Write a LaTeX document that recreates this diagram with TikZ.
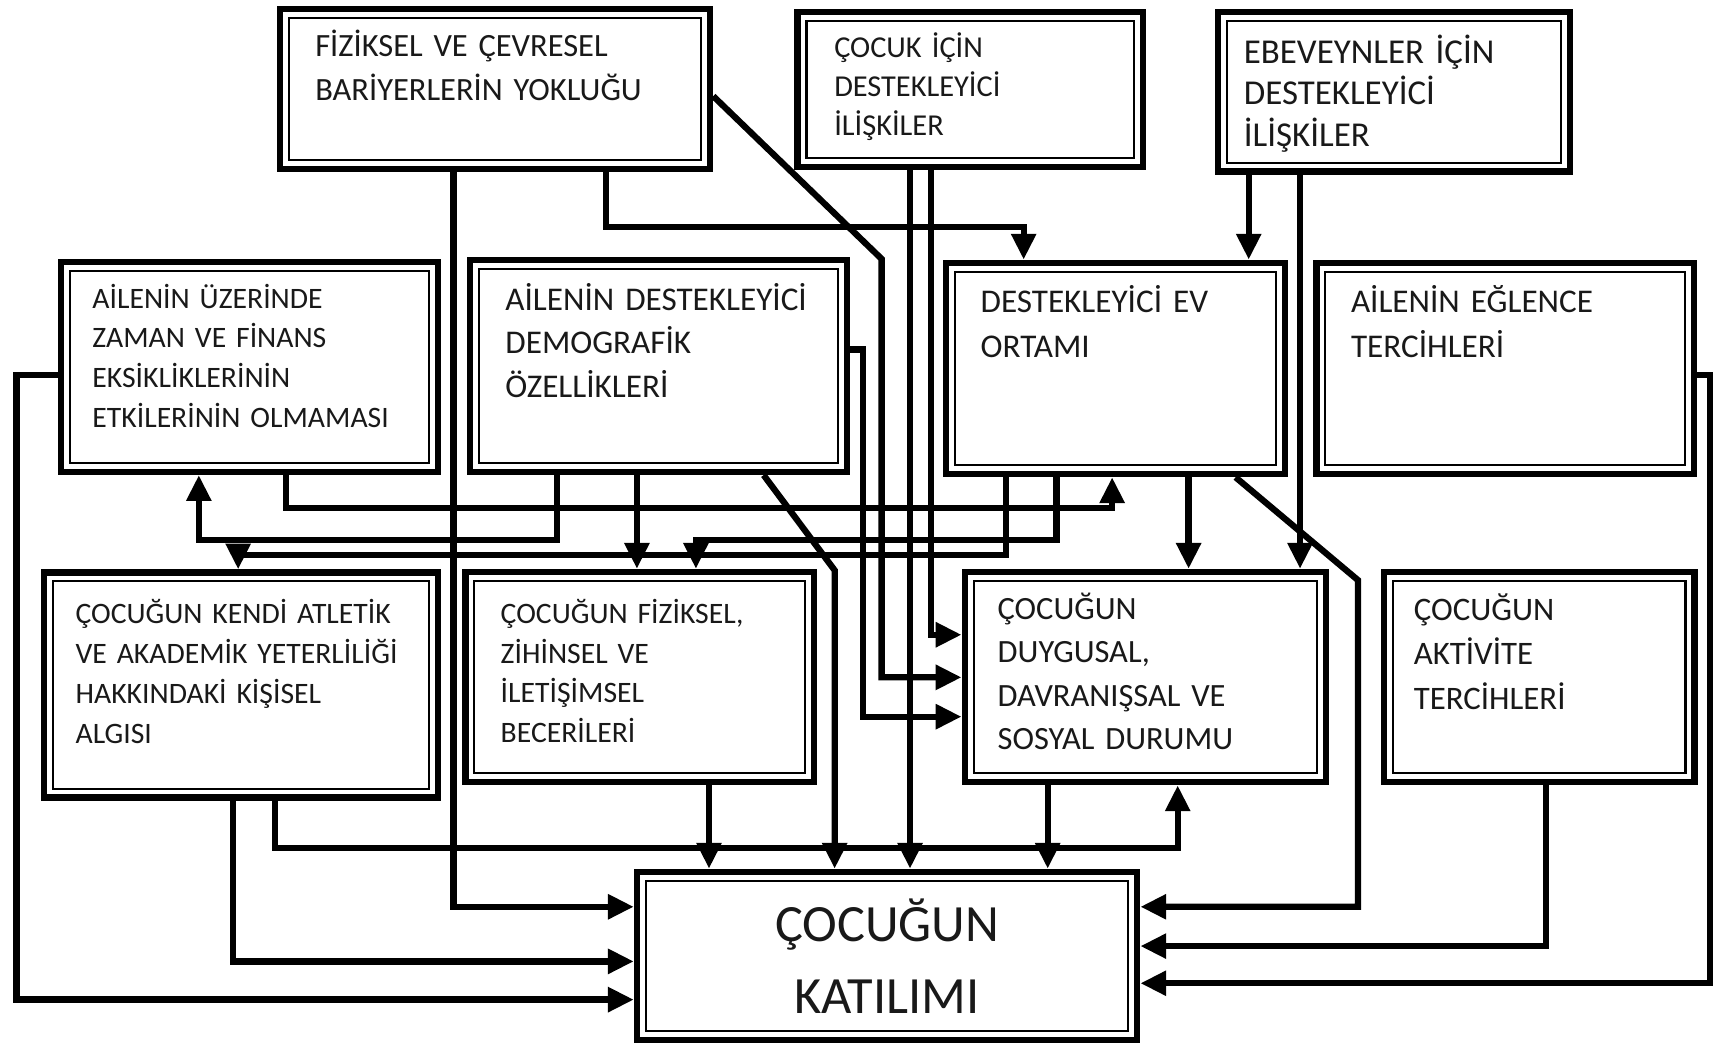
\documentclass[tikz,border=0pt]{standalone}
\usepackage{fontspec}
\setmainfont{Carlito}[WordSpace=0.75]
\usetikzlibrary{arrows.meta, fit}

\begin{document}
\begin{tikzpicture}[x=0.011cm, y=-0.011cm,
    box/.style={draw, line width=1.8pt, inner sep=0pt, fill=white,
        path picture={\draw[line width=0.6pt]
            ([shift={(0.09cm,-0.09cm)}]path picture bounding box.north west) rectangle
            ([shift={(-0.09cm,0.09cm)}]path picture bounding box.south east);}},
    txt/.style={anchor=base west, inner sep=0pt, text width=4.2cm, align=left, text=black!90},
    conn/.style={line width=1.8pt, -{Triangle[length=0.26cm, width=0.24cm]}}]
    \useasboundingbox[fill=white] (0,0) rectangle (1568,955);

    % 上排方框
    \node[box, fit={(256,8.5) (650,155)}] (phys) {};
    \node[box, fit={(730,10.7) (1046,153)}] (childrel) {};
    \node[box, fit={(1115,11) (1437,157)}] (parrel) {};
    \node[txt, font=\fontsize{9.3}{12.5}\selectfont] (phys-t) at (288,52) {FİZİKSEL VE ÇEVRESEL\\BARİYERLERİN YOKLUĞU};
    \node[txt, font=\fontsize{8.7}{11.1}\selectfont] (childrel-t) at (763,53) {ÇOCUK İÇİN\\DESTEKLEYİCİ\\İLİŞKİLER};
    \node[txt, font=\fontsize{10}{11.9}\selectfont] (parrel-t) at (1138,58) {EBEVEYNLER İÇİN\\DESTEKLEYİCİ\\İLİŞKİLER};

    % 中排方框
    \node[box, fit={(56,240) (401,432)}] (famtime) {};
    \node[box, fit={(430,238) (775,432)}] (demog) {};
    \node[box, fit={(866,240.5) (1176,434)}] (homeenv) {};
    \node[box, fit={(1205,240.5) (1550.5,434)}] (famfun) {};
    \node[txt, font=\fontsize{8.5}{11.4}\selectfont] (famtime-t) at (84,282) {AİLENİN ÜZERİNDE\\ZAMAN VE FİNANS\\EKSİKLİKLERİNİN\\ETKİLERİNİN OLMAMASI};
    \node[txt, font=\fontsize{9.5}{12.5}\selectfont] (demog-t) at (462,284) {AİLENİN DESTEKLEYİCİ\\DEMOGRAFİK\\ÖZELLİKLERİ};
    \node[txt, font=\fontsize{9.5}{12.8}\selectfont] (homeenv-t) at (897,286) {DESTEKLEYİCİ EV\\ORTAMI};
    \node[txt, font=\fontsize{9.5}{12.8}\selectfont] (famfun-t) at (1236,286) {AİLENİN EĞLENCE\\TERCİHLERİ};

    % 下排方框
    \node[box, fit={(40,524) (401,730)}] (selfperc) {};
    \node[box, fit={(426,523.5) (745,716)}] (skills) {};
    \node[box, fit={(883,523.5) (1214,716)}] (emo) {};
    \node[box, fit={(1267,523.5) (1551,716)}] (actpref) {};
    \node[txt, font=\fontsize{8.5}{11.5}\selectfont] (selfperc-t) at (68.6,570.5) {ÇOCUĞUN KENDİ ATLETİK\\VE AKADEMİK YETERLİLİĞİ\\HAKKINDAKİ KİŞİSEL\\ALGISI};
    \node[txt, font=\fontsize{8.5}{11.3}\selectfont] (skills-t) at (457.7,571) {ÇOCUĞUN FİZİKSEL,\\ZİHİNSEL VE\\İLETİŞİMSEL\\BECERİLERİ};
    \node[txt, font=\fontsize{9.3}{12.5}\selectfont] (emo-t) at (912.6,566.6) {ÇOCUĞUN\\DUYGUSAL,\\DAVRANIŞSAL VE\\SOSYAL DURUMU};
    \node[txt, font=\fontsize{9.4}{12.7}\selectfont] (actpref-t) at (1293.6,568) {ÇOCUĞUN\\AKTİVİTE\\TERCİHLERİ};

    % 结果
    \node[box, fit={(583,798) (1041,952)}] (particip) {};
    \node[txt, anchor=base, align=center, text width=5cm, font=\fontsize{15}{20.7}\selectfont] (particip-t) at (812,862) {ÇOCUĞUN\\KATILIMI};

    % 上排连线
    \draw[conn] (phys.south -| 415,0) |- (particip.west |- 0,830);
    \draw[conn] (phys.south -| 555,0) |- (937,208) -- (homeenv.north -| 937,0);
    \draw[conn] (phys.east |- 0,88) -- (807,237) |- (emo.west |- 0,620);
    \draw[conn] (childrel.south -| 833,0) -- (particip.north -| 833,0);
    \draw[conn] (childrel.south -| 852,0) |- (emo.west |- 0,581);
    \draw[conn] (parrel.south -| 1143,0) -- (homeenv.north -| 1143,0);
    \draw[conn] (parrel.south -| 1190,0) -- (emo.north -| 1190,0);

    % 中排连线
    \draw[conn] (famtime.west |- 0,343) -| (15,915) -- (particip.west |- 0,915);
    \draw[conn] (famtime.south -| 262,0) |- (1018,465) -- (homeenv.south -| 1018,0);
    \draw[conn] (demog.south -| 510,0) |- (182,494) -- (famtime.south -| 182,0);
    \draw[conn] (demog.south -| 583,0) -- (skills.north -| 583,0);
    \draw[conn] (demog.south -| 699,0) -- (764,522) -- (particip.north -| 764,0);
    \draw[conn] (demog.east |- 0,320) -| (790,656) -- (emo.west |- 0,656);
    \draw[conn] (homeenv.south -| 921,0) |- (218,508) -- (selfperc.north -| 218,0);
    \draw[conn] (homeenv.south -| 967,0) |- (637,494) -- (skills.north -| 637,0);
    \draw[conn] (homeenv.south -| 1088,0) -- (emo.north -| 1088,0);
    \draw[conn] (homeenv.south -| 1131,0) -- (1243,531) |- (particip.east |- 0,830);
    \draw[conn] (famfun.east |- 0,343) -| (1565,900) -- (particip.east |- 0,900);

    % 下排连线
    \draw[conn] (selfperc.south -| 252,0) |- (1078,776) -- (emo.south -| 1078,0);
    \draw[conn] (selfperc.south -| 213,0) |- (particip.west |- 0,880);
    \draw[conn] (skills.south -| 649,0) -- (particip.north -| 649,0);
    \draw[conn] (emo.south -| 959,0) -- (particip.north -| 959,0);
    \draw[conn] (actpref.south -| 1415,0) |- (particip.east |- 0,866);
\end{tikzpicture}
\end{document}
